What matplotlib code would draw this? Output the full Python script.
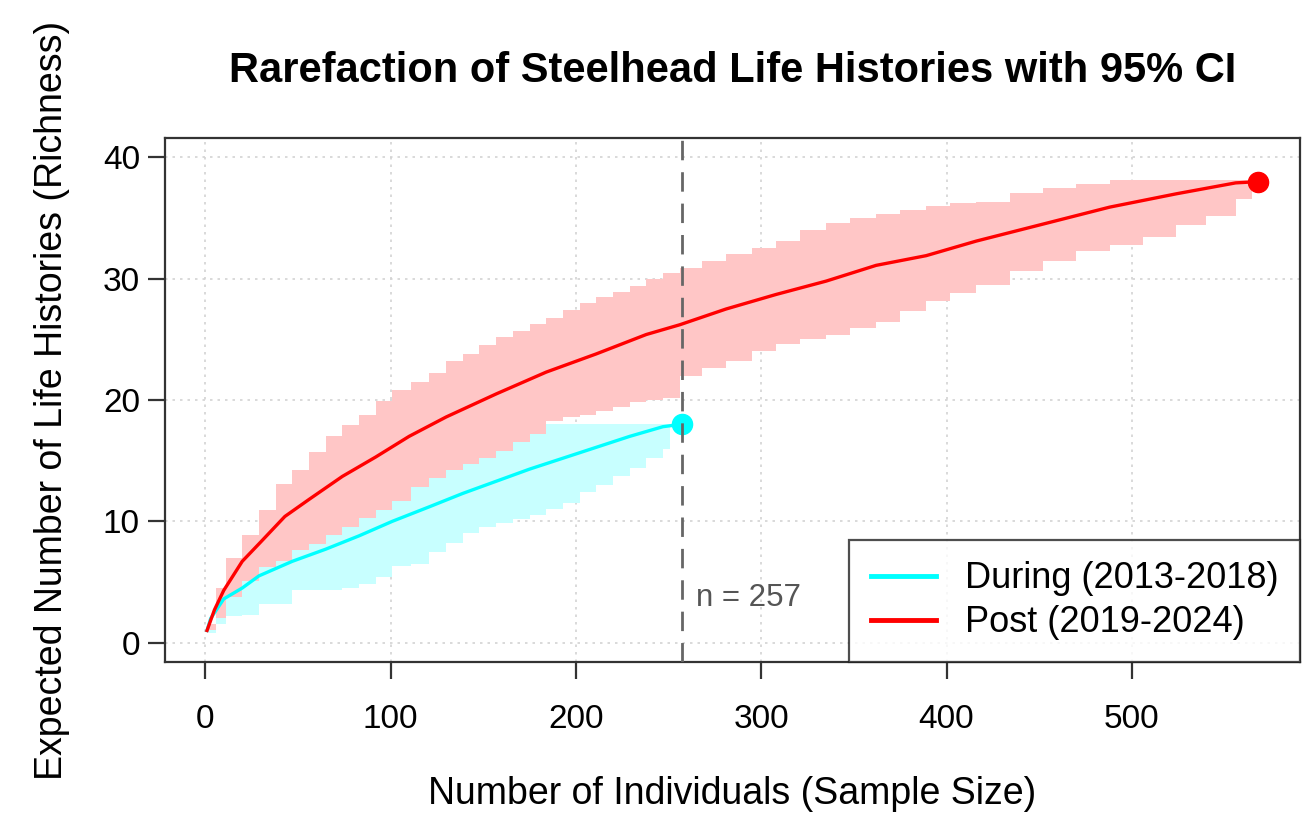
import matplotlib
matplotlib.use('Agg')
import matplotlib.pyplot as plt
import numpy as np

plt.rcParams['font.family'] = ['Liberation Sans', 'DejaVu Sans']

# rarefied richness, post period (2019-2024)
post_n = [1, 5, 10, 20, 30, 43, 56, 74, 92, 110, 130, 157, 184, 211, 238, 256,
          281, 308, 335, 362, 389, 416, 452, 488, 524, 556, 568]
post_mean = [1.0, 2.7, 4.3, 6.7, 8.3, 10.4, 11.8, 13.7, 15.3, 17.0, 18.6, 20.5,
             22.3, 23.8, 25.4, 26.2, 27.5, 28.7, 29.8, 31.1, 31.9, 33.1, 34.5,
             35.9, 37.0, 37.9, 38.0]

# 95% CI, post period
post_ci_n = [2, 6, 11, 20, 29, 38, 47, 56, 65, 74, 83, 92, 101, 111, 121, 130,
             139, 148, 157, 166, 175, 184, 193, 202, 211, 220, 229, 238, 247,
             256, 268, 281, 295, 308, 321, 335, 348, 362, 375, 389, 402, 416,
             434, 452, 470, 488, 506, 524, 540, 556, 565]
post_hi = [1.5, 4.5, 7.0, 8.9, 10.9, 13.1, 14.2, 15.7, 17.0, 17.9, 18.8, 19.9,
           20.8, 21.5, 22.2, 23.2, 23.8, 24.5, 25.2, 25.7, 26.3, 26.8, 27.4,
           28.0, 28.5, 28.9, 29.4, 30.0, 30.5, 30.9, 31.5, 32.0, 32.5, 33.1,
           34.0, 34.6, 35.0, 35.3, 35.7, 36.0, 36.2, 36.3, 37.1, 37.5, 37.8,
           38.1, 38.1, 38.1, 38.1, 38.1, 38.1]
post_lo = [1.0, 2.0, 3.8, 5.1, 6.2, 6.7, 7.6, 8.1, 8.9, 9.5, 10.3, 10.9, 11.7,
           12.8, 13.6, 14.2, 14.7, 15.2, 15.8, 16.5, 17.2, 18.3, 18.6, 18.8,
           19.1, 19.4, 19.8, 20.0, 20.2, 22.0, 22.6, 23.2, 24.0, 24.6, 25.0,
           25.4, 25.9, 26.4, 27.3, 28.2, 28.8, 29.5, 30.6, 31.5, 32.3, 32.8,
           33.4, 34.4, 35.2, 36.6, 37.5]

# rarefied richness, during period (2013-2018)
dur_n = [1, 3, 10, 20, 29, 47, 65, 83, 101, 121, 139, 157, 175, 193, 211, 229,
         247, 257]
dur_mean = [1.0, 2.0, 3.6, 4.5, 5.5, 6.7, 7.7, 8.8, 10.0, 11.2, 12.3, 13.3,
            14.3, 15.2, 16.1, 17.0, 17.8, 18.0]

# 95% CI, during period
dur_ci_n = [2, 6, 11, 20, 29, 38, 44, 47, 56, 65, 74, 83, 92, 101, 111, 121,
            130, 139, 148, 157, 166, 175, 184, 193, 202, 211, 220, 229, 238,
            247, 251]
dur_hi = [1.2, 2.5, 4.3, 5.6, 6.7, 7.2, 7.8, 8.1, 8.6, 9.4, 10.0, 10.8, 11.4,
          12.2, 13.3, 14.1, 14.7, 15.2, 15.7, 16.3, 17.0, 17.7, 18.0, 18.0,
          18.0, 18.0, 18.0, 18.0, 18.0, 18.0, 18.0]
dur_lo = [0.8, 1.5, 2.2, 2.3, 3.2, 3.2, 3.2, 4.3, 4.3, 4.3, 4.5, 4.8, 5.4, 6.3,
          6.5, 7.5, 8.2, 9.0, 9.5, 9.9, 10.2, 10.5, 11.0, 11.5, 12.4, 13.0,
          13.7, 14.4, 15.2, 16.0, 16.3]

n_during = 257
labels = ['During (2013-2018)', 'Post (2019-2024)']

fig = plt.figure(figsize=(13.03, 8.18), dpi=100)
ax = fig.add_axes([0.1266, 0.1907, 0.8711, 0.6406])

ax.set_xlim(-21.7, 590.7)
ax.set_ylim(-1.6, 41.6)
ax.set_xticks([0, 100, 200, 300, 400, 500])
ax.set_yticks([0, 10, 20, 30, 40])
ax.grid(True, color='#d3d3d3', linestyle=(0, (1.5, 3)), linewidth=1.2)
ax.set_axisbelow(True)

# CI bands
ax.fill_between(dur_ci_n, dur_lo, dur_hi, step='post', color='#c8ffff',
                linewidth=0, zorder=2)
ax.fill_between(post_ci_n, post_lo, post_hi, step='post', color='#ffc6c6',
                linewidth=0, zorder=3)

# mean curves
ax.plot(dur_n, dur_mean, color='#00ffff', linewidth=2.4, zorder=4,
        label=labels[0])
ax.plot(post_n, post_mean, color='#ff0000', linewidth=2.4, zorder=5,
        label=labels[1])
ax.plot(dur_n[-1], dur_mean[-1], 'o', color='#00ffff', markersize=14.5, zorder=6)
ax.plot(post_n[-1], post_mean[-1], 'o', color='#ff0000', markersize=14.5, zorder=6)

ax.axvline(n_during, color='#666666', linewidth=2, linestyle=(0, (7, 4.3)),
           zorder=7)
ax.text(n_during + 8, 3.7, f'n = {n_during}', color='#555555', fontsize=22.5,
        va='center', ha='left', zorder=8)

for s in ax.spines.values():
    s.set_color('#333333')
    s.set_linewidth(1.6)
ax.tick_params(direction='out', length=12, width=1.6, color='#333333',
               labelsize=24)
ax.tick_params(axis='y', pad=6)
ax.tick_params(axis='x', pad=18)

ax.set_title('Rarefaction of Steelhead Life Histories with 95% CI',
             fontsize=30, fontweight='bold', pad=40)
ax.set_xlabel('Number of Individuals (Sample Size)', fontsize=27, labelpad=30)
ax.set_ylabel('Expected Number of Life Histories (Richness)', fontsize=27,
              labelpad=24)

leg = ax.legend(loc='lower right', fontsize=26, frameon=True, fancybox=False,
                borderaxespad=0, handlelength=1.8, handletextpad=0.8,
                borderpad=0.6, labelspacing=0.25)
leg.get_frame().set_edgecolor('#222222')
leg.get_frame().set_linewidth(1.6)
leg.set_zorder(10)
for h in leg.get_lines():
    h.set_linewidth(3.5)

fig.savefig('out.png', dpi=100)
